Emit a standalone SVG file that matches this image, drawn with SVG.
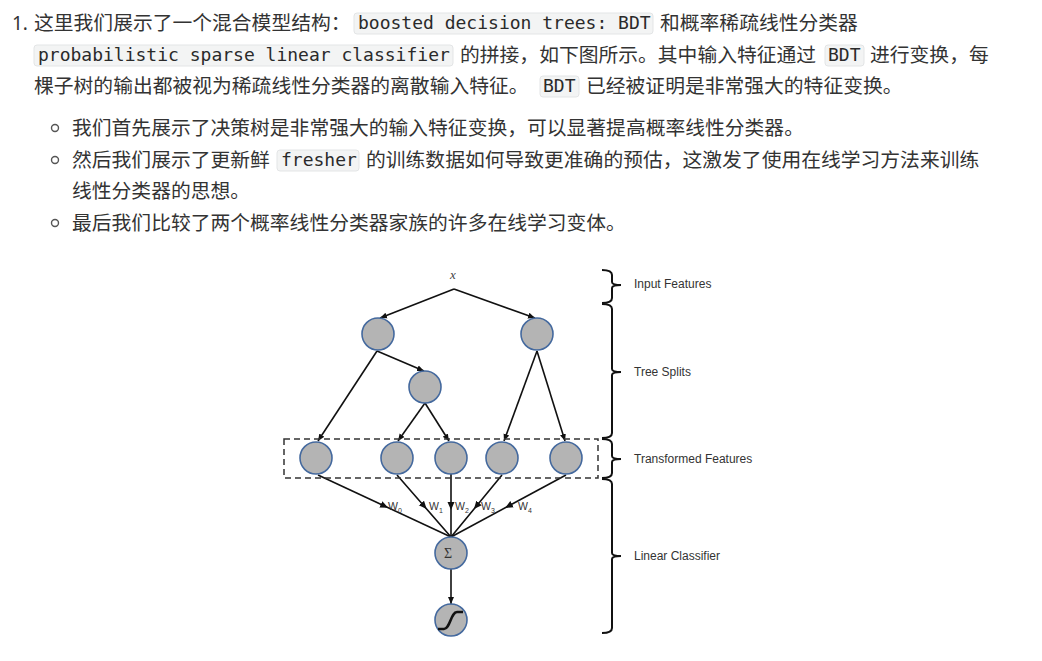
<svg xmlns="http://www.w3.org/2000/svg" width="1042" height="661" viewBox="0 0 1042 661">
<style>
.t{font-family:"Noto Sans CJK SC","Noto Sans",sans-serif;font-size:19.8px;fill:#333}
.n{font-family:"Noto Sans","Liberation Sans",sans-serif;font-size:19px;fill:#333}
.c{font-family:"DejaVu Sans Mono","Liberation Mono",monospace;font-size:18px;fill:#2a2a2a}
.cb{fill:#f3f4f4;stroke:#e3e5e6;stroke-width:1}
.bul{fill:none;stroke:#555;stroke-width:1.4}
.node{fill:#b4b4b4;stroke:#44699e;stroke-width:1.6}
.e{stroke:#111;stroke-width:1.6;fill:none}
.br{stroke:#111;stroke-width:2;fill:none}
.lab{font-family:"Liberation Sans",Arial,sans-serif;font-size:12px;fill:#333}
.w{font-family:"Liberation Sans",Arial,sans-serif;font-size:10.5px;fill:#333}
.ws{font-size:7px}
</style>
<defs>
<marker id="ah" markerWidth="8" markerHeight="8" refX="7" refY="4" orient="auto" markerUnits="userSpaceOnUse">
<path d="M0,1 L7,4 L0,7 Z" fill="#111"/>
</marker>
<marker id="am" markerWidth="8" markerHeight="8" refX="4" refY="4" orient="auto" markerUnits="userSpaceOnUse">
<path d="M0,0.5 L8,4 L0,7.5 Z" fill="#111"/>
</marker>
</defs>
<rect width="1042" height="661" fill="#fff"/>

<g id="text">
<text class="n" x="12" y="30">1.</text>
<text class="t" x="34" y="30">这里我们展示了一个混合模型结构：</text>
<rect class="cb" x="354" y="13" width="299" height="21" rx="3"/>
<text class="c" x="358" y="29">boosted decision trees: BDT</text>
<text class="t" x="660" y="30">和概率稀疏线性分类器</text>

<rect class="cb" x="34" y="45" width="419" height="21" rx="3"/>
<text class="c" x="38" y="61">probabilistic sparse linear classifier</text>
<text class="t" x="460" y="62">的拼接，如下图所示。其中输入特征通过</text>
<rect class="cb" x="825" y="45" width="39" height="21" rx="3"/>
<text class="c" x="828" y="61">BDT</text>
<text class="t" x="870" y="62">进行变换，每</text>

<text class="t" x="34" y="93">棵子树的输出都被视为稀疏线性分类器的离散输入特征。</text>
<rect class="cb" x="540" y="76" width="39" height="21" rx="3"/>
<text class="c" x="543" y="92">BDT</text>
<text class="t" x="586" y="93">已经被证明是非常强大的特征变换。</text>

<circle class="bul" cx="55" cy="128" r="3.5"/>
<text class="t" x="72" y="135">我们首先展示了决策树是非常强大的输入特征变换，可以显著提高概率线性分类器。</text>
<circle class="bul" cx="55" cy="160" r="3.5"/>
<text class="t" x="72" y="167">然后我们展示了更新鲜</text>
<rect class="cb" x="277" y="150" width="82" height="21" rx="3"/>
<text class="c" x="281" y="166">fresher</text>
<text class="t" x="366" y="167">的训练数据如何导致更准确的预估，这激发了使用在线学习方法来训练</text>
<text class="t" x="72" y="198">线性分类器的思想。</text>
<circle class="bul" cx="55" cy="223" r="3.5"/>
<text class="t" x="72" y="230">最后我们比较了两个概率线性分类器家族的许多在线学习变体。</text>
</g>

<g id="connectors">
<path class="e" d="M454,289 L380,318" marker-end="url(#ah)"/>
<path class="e" d="M454,289 L535,318" marker-end="url(#ah)"/>
<path class="e" d="M377,351 L424,371" marker-end="url(#ah)"/>
<path class="e" d="M377,351 L318,441" marker-end="url(#ah)"/>
<path class="e" d="M425,403 L398,441" marker-end="url(#ah)"/>
<path class="e" d="M425,403 L449,441" marker-end="url(#ah)"/>
<path class="e" d="M537,351 L504,441" marker-end="url(#ah)"/>
<path class="e" d="M537,351 L565,441" marker-end="url(#ah)"/>
<path class="e" d="M318,475 L384.5,506 L451,537" marker-mid="url(#am)"/>
<path class="e" d="M397,475 L424,506 L451,537" marker-mid="url(#am)"/>
<path class="e" d="M451,474 L451,506 L451,537" marker-mid="url(#am)"/>
<path class="e" d="M502,475 L476.5,506 L451,537" marker-mid="url(#am)"/>
<path class="e" d="M566,475 L508.5,506 L451,537" marker-mid="url(#am)"/>
<path class="e" d="M451,569 L451,604" marker-end="url(#ah)"/>
<rect x="284" y="439" width="314" height="39" fill="none" stroke="#333" stroke-width="1.5" stroke-dasharray="6,4"/>
</g>

<g id="input">
<text x="453" y="279" font-family="Liberation Serif,serif" font-style="italic" font-size="13" fill="#444" text-anchor="middle">x</text>
</g>
<g id="split1"><circle class="node" cx="378" cy="334" r="16"/></g>
<g id="split2"><circle class="node" cx="537" cy="334" r="16"/></g>
<g id="split3"><circle class="node" cx="425" cy="387" r="16"/></g>
<g id="leaf0"><circle class="node" cx="316" cy="458" r="16"/></g>
<g id="leaf1"><circle class="node" cx="397" cy="458" r="16"/></g>
<g id="leaf2"><circle class="node" cx="451" cy="458" r="16"/></g>
<g id="leaf3"><circle class="node" cx="502" cy="458" r="16"/></g>
<g id="leaf4"><circle class="node" cx="566" cy="458" r="16"/></g>
<g id="sum">
<circle class="node" cx="451" cy="553" r="16"/>
<text x="448" y="558" font-family="Liberation Serif,serif" font-size="14" fill="#333" text-anchor="middle">Σ</text>
</g>
<g id="sigmoid">
<circle class="node" cx="451" cy="620" r="16"/>
<path d="M438,629 L444,629 C450,629 451,612 457,612 L463,612" fill="none" stroke="#111" stroke-width="2.6"/>
</g>

<g id="weights">
<text class="w" x="388" y="510">W<tspan class="ws" dy="3">0</tspan></text>
<text class="w" x="429" y="510">W<tspan class="ws" dy="3">1</tspan></text>
<text class="w" x="455" y="510">W<tspan class="ws" dy="3">2</tspan></text>
<text class="w" x="481" y="510">W<tspan class="ws" dy="3">3</tspan></text>
<text class="w" x="518" y="510">W<tspan class="ws" dy="3">4</tspan></text>
</g>

<g id="braces">
<path class="br" d="M602,270 Q612,270 612,275 L612,282 Q612,285 621,285 Q612,285 612,288 L612,298 Q612,303 602,303"/>
<path class="br" d="M602,304 Q612,304 612,309 L612,369 Q612,372 621,372 Q612,372 612,375 L612,433 Q612,438 602,438"/>
<path class="br" d="M602,439 Q612,439 612,444 L612,456 Q612,459 621,459 Q612,459 612,462 L612,473 Q612,478 602,478"/>
<path class="br" d="M602,479 Q612,479 612,484 L612,553 Q612,556 621,556 Q612,556 612,559 L612,628 Q612,633 602,633"/>
</g>
<g id="labels">
<text class="lab" x="634" y="288">Input Features</text>
<text class="lab" x="634" y="376">Tree Splits</text>
<text class="lab" x="634" y="463">Transformed Features</text>
<text class="lab" x="634" y="560">Linear Classifier</text>
</g>
</svg>
